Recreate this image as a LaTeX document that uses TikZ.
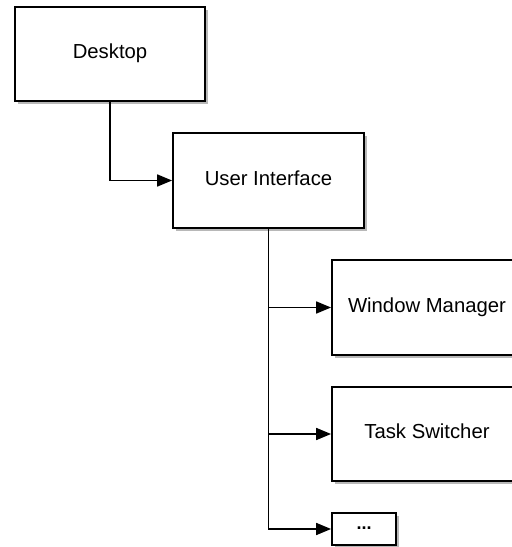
\documentclass[tikz,border=0pt]{standalone}
\usepackage{fontspec}
\setmainfont{Liberation Sans}
\usetikzlibrary{arrows.meta,shadows}
\newcommand{\liftxt}[1]{\raisebox{5pt}{#1}}
\tikzset{
  box/.style={draw=black, line width=1.8pt, fill=white, minimum width=190pt, minimum height=94pt,
    inner sep=0pt, font=\fontsize{20.3pt}{24pt}\selectfont,
    drop shadow={shadow xshift=3pt, shadow yshift=-3pt, fill=black, opacity=0.28}},
  link/.style={line width=1.7pt, -{Triangle[length=15pt,width=12pt]}}
}
\begin{document}
\begin{tikzpicture}[x=1pt,y=1pt]
\clip (0,0) rectangle (512,547);
\fill[white] (0,0) rectangle (512,547);
\node[box] (desk) at (110,493) {\liftxt{Desktop}};
\node[box, minimum width=191pt, minimum height=95pt] (ui) at (268.5,366.5) {\liftxt{User Interface}};
\node[box, minimum height=95pt] (wm) at (427,239.5) {\liftxt{Window Manager}};
\node[box] (ts) at (427,113) {\liftxt{Task Switcher}};
\node[box, minimum width=64pt, minimum height=32pt, font=\fontsize{18pt}{20pt}\bfseries] (more) at (364,18) {\raisebox{2pt}{...}};
\draw[link] (desk.south) |- (ui.west);
\draw[link] (ui.south) |- (wm.west);
\draw[link] (ui.south) |- (ts.west);
\draw[link] (ui.south) |- (more.west);
\end{tikzpicture}
\end{document}
